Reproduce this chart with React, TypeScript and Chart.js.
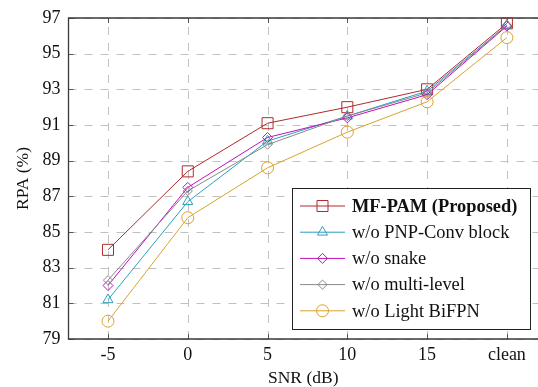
import React, { useEffect, useRef } from "react";
import { Chart, registerables } from "chart.js";
import { drawPoint } from "chart.js/helpers";

Chart.register(...registerables);

const snrLabels = ["-5", "0", "5", "10", "15", "clean"];
const yTicks = [79, 81, 83, 85, 87, 89, 91, 93, 95, 97];

const seriesNames = [
  "MF-PAM (Proposed)",
  "w/o PNP-Conv block",
  "w/o snake",
  "w/o multi-level",
  "w/o Light BiFPN",
];
const mfPam = [84.0, 88.4, 91.1, 92.0, 93.0, 96.7];
const noPnpConv = [81.2, 86.7, 90.1, 91.5, 92.9, 96.6];
const noSnake = [82.0, 87.5, 90.3, 91.4, 92.7, 96.55];
const noMultiLevel = [82.3, 87.3, 89.9, 91.5, 92.8, 96.6];
const noLightBiFPN = [80.0, 85.8, 88.6, 90.6, 92.3, 95.9];

const seriesValues = [mfPam, noPnpConv, noSnake, noMultiLevel, noLightBiFPN];
const seriesColors = ["#b22a2a", "#2a9fbd", "#bf10bf", "#8a8a8a", "#d9a22e"];
const seriesMarkers = ["rect", "triangle", "rectRot", "rectRot", "circle"];
const markerRadii = [7.8, 5.8, 5, 4.6, 6];

const FONT = "'Liberation Serif', 'Times New Roman', serif";
const TICK_FS = 18;
const TITLE_FS = 17.5;
const LEGEND_FS = 18.4;

export default function App() {
  const ref = useRef<HTMLCanvasElement | null>(null);

  useEffect(() => {
    document.body.style.overflow = "hidden";
    const canvas = ref.current!;
    const datasets = seriesNames.map((name, i) => ({
      label: name,
      data: seriesValues[i].map((v, j) => ({ x: j, y: v })),
      borderColor: seriesColors[i],
      backgroundColor: "rgba(0,0,0,0)",
      pointBorderColor: seriesColors[i],
      pointBackgroundColor: "rgba(0,0,0,0)",
      pointStyle: seriesMarkers[i],
      pointRadius: markerRadii[i],
      pointBorderWidth: 1,
      borderWidth: 1,
      tension: 0,
      clip: false,
      order: 5 - i,
    }));

    const framePlugin = {
      id: "frame",
      beforeDatasetsDraw(chart: any) {
        const { ctx, chartArea } = chart;
        const xs = chart.scales.x;
        const ys = chart.scales.y;
        const { left, right, top, bottom } = chartArea;
        ctx.save();
        // dashed grid
        ctx.strokeStyle = "#c0c0c0";
        ctx.lineWidth = 1;
        ctx.setLineDash([8, 8]);
        snrLabels.forEach((_, i) => {
          const px = Math.round(xs.getPixelForValue(i)) + 0.5;
          ctx.beginPath();
          ctx.moveTo(px, bottom);
          ctx.lineTo(px, top);
          ctx.stroke();
        });
        yTicks.forEach((t) => {
          const py = Math.round(ys.getPixelForValue(t)) + 0.5;
          ctx.beginPath();
          ctx.moveTo(left, py);
          ctx.lineTo(right, py);
          ctx.stroke();
        });
        ctx.setLineDash([]);
        // small tick marks
        ctx.strokeStyle = "#555";
        ctx.lineWidth = 1;
        ctx.beginPath();
        snrLabels.forEach((_, i) => {
          const px = Math.round(xs.getPixelForValue(i)) + 0.5;
          ctx.moveTo(px, bottom);
          ctx.lineTo(px, bottom - 5);
          ctx.moveTo(px, top);
          ctx.lineTo(px, top + 5);
        });
        yTicks.forEach((t) => {
          const py = Math.round(ys.getPixelForValue(t)) + 0.5;
          ctx.moveTo(left, py);
          ctx.lineTo(left + 5, py);
        });
        ctx.stroke();
        // axis frame
        ctx.strokeStyle = "#3a3a3a";
        ctx.lineWidth = 1.3;
        ctx.beginPath();
        ctx.moveTo(right, top);
        ctx.lineTo(left, top);
        ctx.lineTo(left, bottom);
        ctx.lineTo(right, bottom);
        ctx.stroke();
        ctx.restore();
      },
      afterDraw(chart: any) {
        const { ctx } = chart;
        ctx.save();
        // legend
        const bx = 292, by = 188, bw = 238, bh = 141;
        ctx.fillStyle = "#fff";
        ctx.fillRect(bx, by, bw, bh);
        ctx.strokeStyle = "#222";
        ctx.lineWidth = 1;
        ctx.strokeRect(bx + 0.5, by + 0.5, bw, bh);
        chart.data.datasets.forEach((ds: any, i: number) => {
          const cy = 206 + i * 26.2;
          ctx.strokeStyle = ds.borderColor;
          ctx.lineWidth = 1;
          ctx.beginPath();
          ctx.moveTo(300, cy);
          ctx.lineTo(345, cy);
          ctx.stroke();
          ctx.fillStyle = "rgba(0,0,0,0)";
          drawPoint(
            ctx,
            { pointStyle: ds.pointStyle, radius: ds.pointRadius, rotation: 0, borderWidth: 1 },
            322.5,
            cy
          );
          ctx.fillStyle = "#111";
          ctx.font = `${i === 0 ? "bold " : ""}${LEGEND_FS}px ${FONT}`;
          ctx.textBaseline = "middle";
          ctx.textAlign = "left";
          ctx.fillText(ds.label, 352, cy + 1);
        });
        ctx.restore();
      },
    };

    const chart = new Chart(canvas, {
      type: "line",
      data: { datasets },
      options: {
        responsive: false,
        animation: false,
        events: [],
        layout: { autoPadding: false, padding: { top: 18, right: 0, left: 0, bottom: 0 } },
        plugins: { legend: { display: false }, tooltip: { enabled: false } },
        scales: {
          x: {
            type: "linear",
            min: -0.495,
            max: 5.39,
            afterBuildTicks: (s: any) => {
              s.ticks = snrLabels.map((_, i) => ({ value: i }));
            },
            afterFit: (s: any) => {
              s.height = 48;
              s.paddingLeft = 0;
              s.paddingRight = 0;
            },
            ticks: {
              callback: (v: any) => snrLabels[Math.round(v)] ?? "",
              font: { family: FONT, size: TICK_FS },
              color: "#111",
              padding: 5,
              maxRotation: 0,
              autoSkip: false,
            },
            grid: { display: false, drawTicks: false },
            border: { display: false },
            title: {
              display: true,
              text: "SNR (dB)",
              font: { family: FONT, size: TITLE_FS, lineHeight: 1 },
              color: "#111",
              padding: { top: 0, bottom: 0 },
            },
          },
          y: {
            min: 79,
            max: 97,
            afterBuildTicks: (s: any) => {
              s.ticks = yTicks.map((v) => ({ value: v }));
            },
            afterFit: (s: any) => {
              s.width = 68.5;
              s.paddingTop = 0;
              s.paddingBottom = 0;
            },
            ticks: {
              font: { family: FONT, size: TICK_FS },
              color: "#111",
              padding: 8,
            },
            grid: { display: false, drawTicks: false },
            border: { display: false },
            title: {
              display: true,
              text: "RPA (%)",
              font: { family: FONT, size: TITLE_FS, lineHeight: 1 },
              color: "#111",
              padding: { top: 15, bottom: 0 },
            },
          },
        },
      } as any,
      plugins: [framePlugin],
    });
    return () => chart.destroy();
  }, []);

  return (
    <canvas
      ref={ref}
      width={538}
      height={387}
      style={{ position: "fixed", left: 0, top: 0, width: 538, height: 387, background: "#fff" }}
    />
  );
}
